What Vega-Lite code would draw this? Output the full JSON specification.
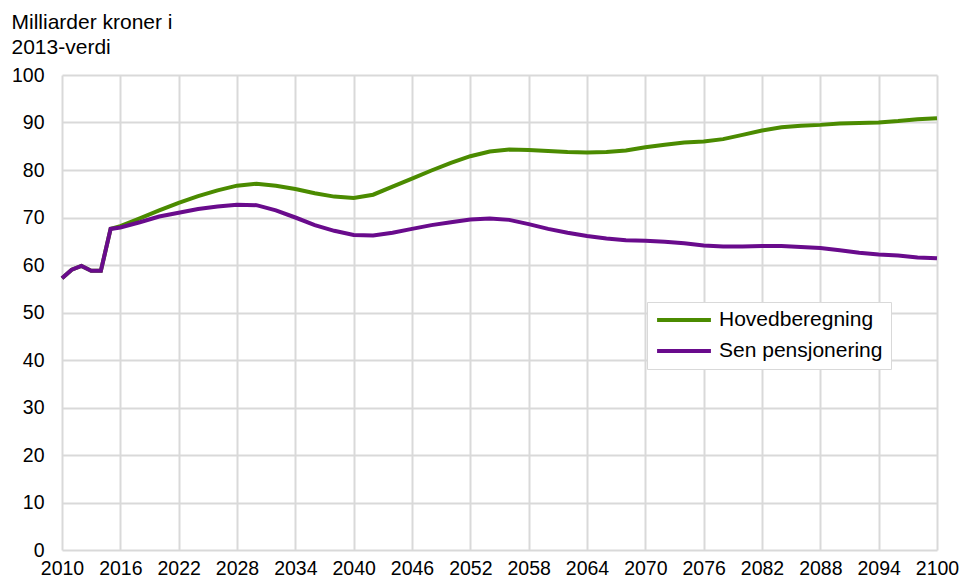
{
  "$schema": "https://vega.github.io/schema/vega-lite/v6.json",
  "width": 875,
  "height": 475,
  "autosize": {"type": "none"},
  "padding": {"left": 62, "top": 75, "right": 23, "bottom": 29},
  "background": "white",
  "config": {
    "view": {"stroke": null},
    "font": "Liberation Sans"
  },
  "datasets": {
    "h": [
      {"year": 2010, "v": 57.2}, {"year": 2011, "v": 59.0}, {"year": 2012, "v": 59.8}, {"year": 2013, "v": 58.8}, {"year": 2014, "v": 58.8}, {"year": 2015, "v": 67.6},
      {"year": 2016, "v": 68.2}, {"year": 2018, "v": 69.8}, {"year": 2020, "v": 71.5}, {"year": 2022, "v": 73.1}, {"year": 2024, "v": 74.5}, {"year": 2026, "v": 75.7},
      {"year": 2028, "v": 76.7}, {"year": 2030, "v": 77.1}, {"year": 2032, "v": 76.7}, {"year": 2034, "v": 76.0}, {"year": 2036, "v": 75.1}, {"year": 2038, "v": 74.4},
      {"year": 2040, "v": 74.1}, {"year": 2042, "v": 74.8}, {"year": 2044, "v": 76.5}, {"year": 2046, "v": 78.2}, {"year": 2048, "v": 79.9}, {"year": 2050, "v": 81.5},
      {"year": 2052, "v": 82.9}, {"year": 2054, "v": 83.9}, {"year": 2056, "v": 84.3}, {"year": 2058, "v": 84.2}, {"year": 2060, "v": 84.0}, {"year": 2062, "v": 83.8},
      {"year": 2064, "v": 83.7}, {"year": 2066, "v": 83.8}, {"year": 2068, "v": 84.1}, {"year": 2070, "v": 84.8}, {"year": 2072, "v": 85.3}, {"year": 2074, "v": 85.8},
      {"year": 2076, "v": 86.0}, {"year": 2078, "v": 86.5}, {"year": 2080, "v": 87.4}, {"year": 2082, "v": 88.3}, {"year": 2084, "v": 89.0}, {"year": 2086, "v": 89.3},
      {"year": 2088, "v": 89.5}, {"year": 2090, "v": 89.8}, {"year": 2092, "v": 89.9}, {"year": 2094, "v": 90.0}, {"year": 2096, "v": 90.3}, {"year": 2098, "v": 90.7},
      {"year": 2100, "v": 90.9}
    ],
    "s": [
      {"year": 2010, "v": 57.2}, {"year": 2011, "v": 59.0}, {"year": 2012, "v": 59.8}, {"year": 2013, "v": 58.8}, {"year": 2014, "v": 58.8}, {"year": 2015, "v": 67.6},
      {"year": 2016, "v": 67.9}, {"year": 2018, "v": 69.0}, {"year": 2020, "v": 70.2}, {"year": 2022, "v": 71.0}, {"year": 2024, "v": 71.8}, {"year": 2026, "v": 72.3},
      {"year": 2028, "v": 72.7}, {"year": 2030, "v": 72.6}, {"year": 2032, "v": 71.5}, {"year": 2034, "v": 70.0}, {"year": 2036, "v": 68.4}, {"year": 2038, "v": 67.2},
      {"year": 2040, "v": 66.3}, {"year": 2042, "v": 66.2}, {"year": 2044, "v": 66.8}, {"year": 2046, "v": 67.6}, {"year": 2048, "v": 68.4}, {"year": 2050, "v": 69.0},
      {"year": 2052, "v": 69.6}, {"year": 2054, "v": 69.8}, {"year": 2056, "v": 69.5}, {"year": 2058, "v": 68.6}, {"year": 2060, "v": 67.6}, {"year": 2062, "v": 66.8},
      {"year": 2064, "v": 66.1}, {"year": 2066, "v": 65.6}, {"year": 2068, "v": 65.2}, {"year": 2070, "v": 65.1}, {"year": 2072, "v": 64.9}, {"year": 2074, "v": 64.6},
      {"year": 2076, "v": 64.1}, {"year": 2078, "v": 63.9}, {"year": 2080, "v": 63.9}, {"year": 2082, "v": 64.0}, {"year": 2084, "v": 64.0}, {"year": 2086, "v": 63.8},
      {"year": 2088, "v": 63.6}, {"year": 2090, "v": 63.1}, {"year": 2092, "v": 62.6}, {"year": 2094, "v": 62.2}, {"year": 2096, "v": 62.0}, {"year": 2098, "v": 61.6},
      {"year": 2100, "v": 61.4}
    ]
  },
  "data": {"name": "h"},
  "transform": [
    {"lookup": "year", "from": {"data": {"name": "s"}, "key": "year", "fields": ["v"]}, "as": ["sv"]},
    {"fold": ["v", "sv"], "as": ["k", "value"]},
    {"calculate": "datum.k == 'v' ? 'Hovedberegning' : 'Sen pensjonering'", "as": "series"}
  ],
  "mark": {"type": "line", "strokeWidth": 4, "interpolate": "linear", "clip": false},
  "encoding": {
    "x": {
      "field": "year", "type": "quantitative",
      "scale": {"domain": [2010, 2100], "nice": false, "zero": false},
      "axis": {
        "values": [2010, 2016, 2022, 2028, 2034, 2040, 2046, 2052, 2058, 2064, 2070, 2076, 2082, 2088, 2094, 2100],
        "format": "d", "title": null, "domain": false, "ticks": false,
        "grid": true, "gridColor": "#d9d9d9", "gridWidth": 2,
        "labelFont": "Liberation Sans", "labelFontSize": 19.5, "labelColor": "#000000",
        "labelPadding": 9, "labelFlush": false, "labelOverlap": false
      }
    },
    "y": {
      "field": "value", "type": "quantitative",
      "scale": {"domain": [0, 100], "nice": false},
      "axis": {
        "values": [0, 10, 20, 30, 40, 50, 60, 70, 80, 90, 100],
        "title": ["Milliarder kroner i", "2013-verdi"],
        "titleAngle": 0, "titleAlign": "left", "titleBaseline": "alphabetic",
        "titleX": -51, "titleY": -47, "titleFontSize": 21, "titleFontWeight": "normal",
        "titleColor": "#000000", "titleLineHeight": 25, "titleFont": "Liberation Sans",
        "domain": false, "ticks": false,
        "grid": true, "gridColor": "#d9d9d9", "gridWidth": 2,
        "labelFontSize": 19.5, "labelColor": "#000000", "labelPadding": 18, "labelFont": "Liberation Sans"
      }
    },
    "color": {
      "field": "series", "type": "nominal",
      "scale": {"domain": ["Hovedberegning", "Sen pensjonering"], "range": ["#4b8b00", "#690b8c"]},
      "legend": {
        "title": null, "orient": "none", "legendX": 585, "legendY": 227,
        "symbolType": "stroke", "symbolSize": 2900, "symbolStrokeWidth": 4,
        "clipHeight": 20, "labelLimit": 400,
        "labelFontSize": 21, "labelColor": "#000000", "labelFont": "Liberation Sans",
        "strokeColor": "#d9d9d9", "fillColor": "#ffffff", "padding": 8,
        "rowPadding": 10, "labelOffset": 6
      }
    }
  }
}
